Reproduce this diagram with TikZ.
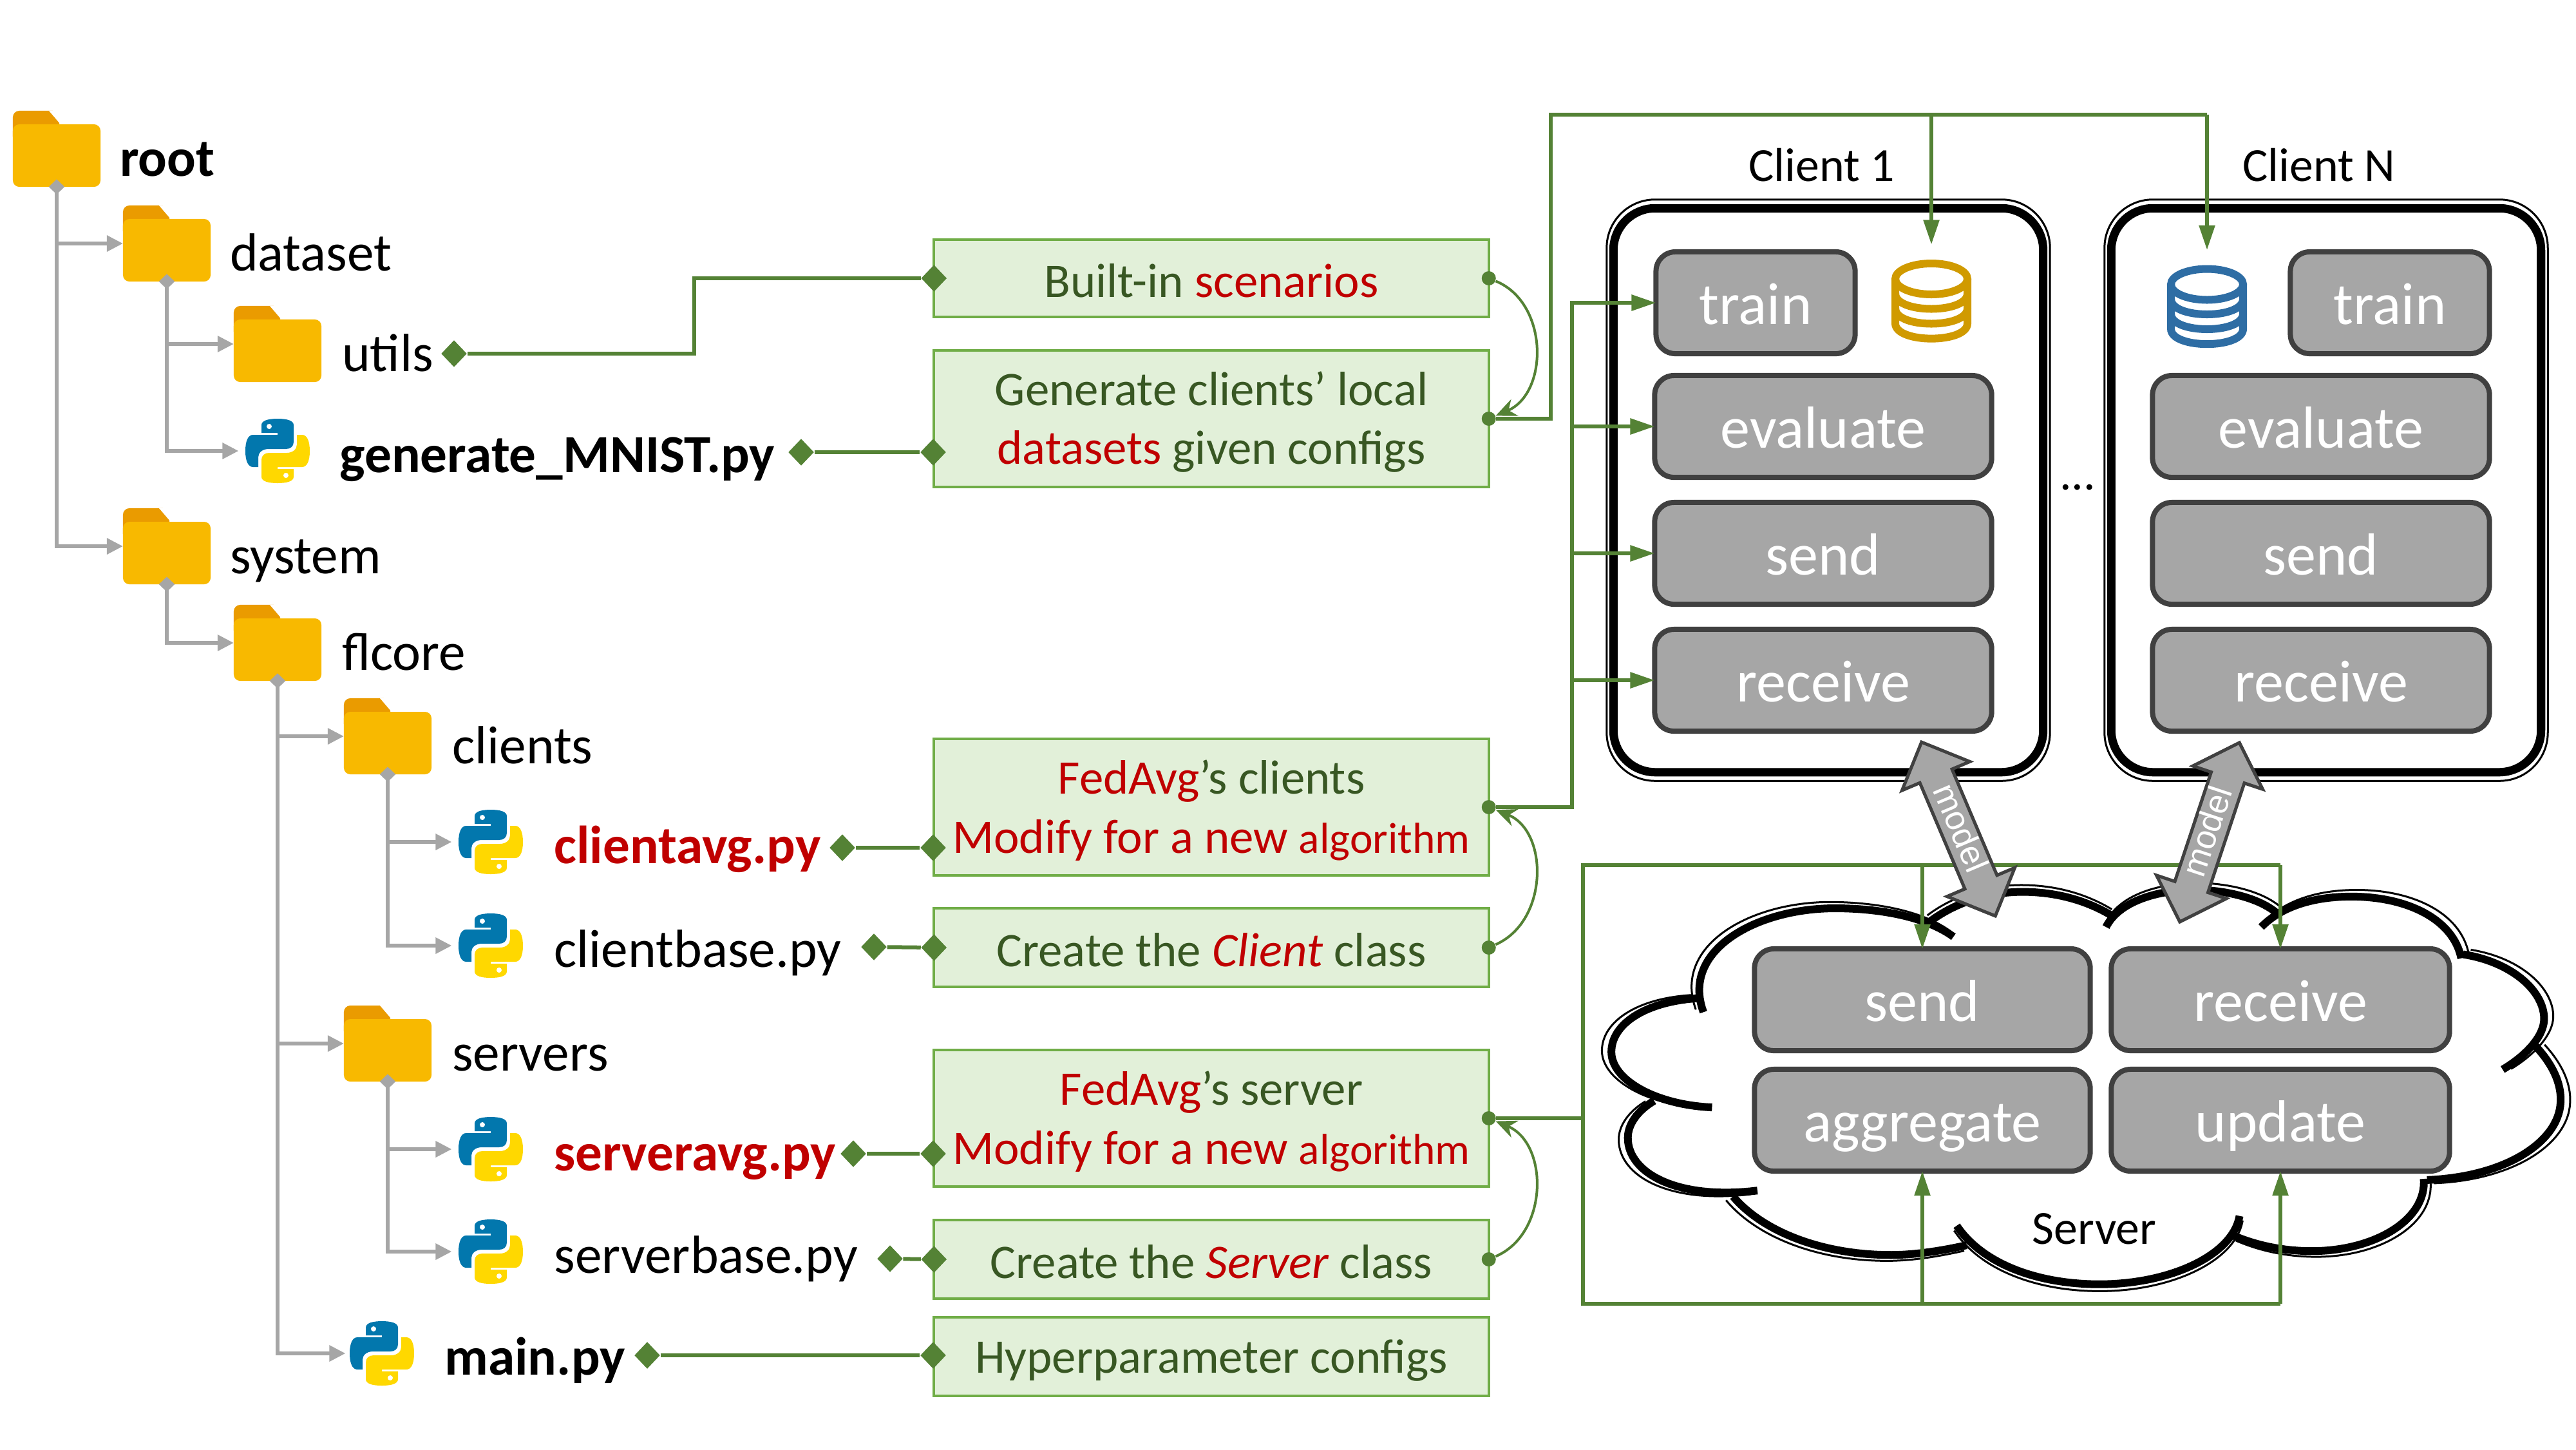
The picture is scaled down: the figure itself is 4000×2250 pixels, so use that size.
\documentclass[tikz,border=0pt]{standalone}
\usepackage{fontspec}
\setmainfont{Carlito}
\newfontfamily\modelfont{Liberation Sans}
\usepackage{tikz}
\usetikzlibrary{positioning,arrows.meta,shapes.geometric,shapes.arrows}

\definecolor{foldermain}{HTML}{F8B900}
\definecolor{foldertab}{HTML}{EA9B00}
\definecolor{treegray}{HTML}{A6A6A6}
\definecolor{fndark}{HTML}{404040}
\definecolor{linkgreen}{HTML}{548235}
\definecolor{notefill}{HTML}{E2F0D9}
\definecolor{noteline}{HTML}{70AD47}
\definecolor{notetext}{HTML}{385723}
\definecolor{notered}{HTML}{C00000}
\definecolor{pyblue}{HTML}{0277AD}
\definecolor{pyyellow}{HTML}{FFD800}
\definecolor{dborange}{HTML}{D09A00}
\definecolor{dbblue}{HTML}{2E6DA4}

\newcommand{\red}[1]{\textcolor{notered}{#1}}
\newcommand{\algword}{{\fontsize{19.2}{19.2}\selectfont algorithm}}
\newcommand{\pysnake}{(-25,-40) .. controls (-25,-47) and (-15,-50) .. (0,-50) .. controls (15,-50) and (25,-47) .. (25,-40) -- (25,-14) .. controls (25,-7) and (20,-3) .. (13,-3) -- (-14,-3) .. controls (-24,-3) and (-30,3) .. (-30,10) -- (-30,25) -- (-38,25) .. controls (-46,25) and (-50,15) .. (-50,0) .. controls (-50,-15) and (-46,-25) .. (-38,-25) -- (0,-25) -- (0,-28) -- (-25,-28) -- cycle}
\newcommand{\pysnakeb}{(25,40) .. controls (25,47) and (15,50) .. (0,50) .. controls (-15,50) and (-25,47) .. (-25,40) -- (-25,14) .. controls (-25,7) and (-20,3) .. (-13,3) -- (14,3) .. controls (24,3) and (30,-3) .. (30,-10) -- (30,-25) -- (38,-25) .. controls (46,-25) and (50,-15) .. (50,0) .. controls (50,15) and (46,25) .. (38,25) -- (0,25) -- (0,28) -- (25,28) -- cycle}

\tikzset{
  flabel/.style={font=\fontsize{23.7}{23.7}\selectfont,text height=16pt,text depth=5pt,inner sep=0pt,outer sep=0pt,yshift=-2.3mm},
  pylabel/.style={flabel,yshift=.9mm},
  folder/.style={minimum width=13.6mm,minimum height=11.8mm,inner sep=0pt,outer sep=0pt,
    path picture={
      \fill[foldertab,rounded corners=1mm] (path picture bounding box.north west) rectangle ([xshift=7.2mm,yshift=-5mm]path picture bounding box.north west);
      \fill[white] ([xshift=5.6mm]path picture bounding box.north west) -- ([xshift=7.4mm,yshift=-2.1mm]path picture bounding box.north west) -- ([xshift=7.4mm]path picture bounding box.north west) -- cycle;
      \fill[foldermain,rounded corners=1mm] ([yshift=-2.1mm]path picture bounding box.north west) rectangle (path picture bounding box.south east);
    }},
  pyicon/.style={minimum width=10.3mm,minimum height=10.3mm,inner sep=0pt,outer sep=0pt,
    path picture={
      \begin{scope}[shift={(path picture bounding box.center)},scale=1.03]
        \fill[pyblue] \pysnake;
        \fill[white] (-13,-38) circle (4);
        \fill[pyyellow] \pysnakeb;
        \fill[white] (13,38) circle (4);
      \end{scope}
    }},
  dbicon/.style={minimum width=12.6mm,minimum height=13mm,inner sep=0pt,outer sep=0pt,
    path picture={
      \begin{scope}[shift={(path picture bounding box.center)},#1,line width=1.2mm]
        \draw (0,-34.5) circle[x radius=56,y radius=24];
        \draw (-56,-34.5) -- (-56,34.5) .. controls (-56,66) and (56,66) .. (56,34.5) -- (56,-34.5);
        \draw (-56,-12) .. controls (-56,20) and (56,20) .. (56,-12);
        \draw (-56,11) .. controls (-56,43) and (56,43) .. (56,11);
      \end{scope}
    }},
  treedot/.style={diamond,fill=treegray,inner sep=0pt,minimum width=2.5mm,minimum height=2.4mm},
  linkdot/.style={diamond,fill=linkgreen,inner sep=0pt,minimum width=4mm,minimum height=4.2mm},
  portdot/.style={circle,fill=linkgreen,inner sep=0pt,minimum size=2.2mm},
  tree/.style={treegray,line width=.6mm},
  treearrow/.style={tree,-{Triangle[length=2.5mm,width=2.4mm]}},
  link/.style={linkgreen,line width=.6mm},
  linkarrow/.style={link,-{Triangle[length=3.8mm,width=2.4mm]}},
  linkfeed/.style={linkgreen,line width=.55mm,-{Triangle[length=3.8mm,width=2.4mm]}},
  linkbend/.style={linkgreen,line width=.4mm,-{Stealth[length=3.2mm,width=2.8mm]}},
  note/.style={draw=noteline,fill=notefill,line width=.4mm,text=notetext,minimum width=86.1mm,inner sep=0pt,outer sep=0pt,align=center,font=\fontsize{21.3}{26}\selectfont},
  fnbox/.style={draw=fndark,fill=treegray,line width=.8mm,rounded corners=3mm,text=white,inner sep=0pt,outer sep=0pt,minimum height=15.8mm,font=\fontsize{26.2}{26.2}\selectfont,text height=20pt,text depth=.7pt},
  clientbox/.style={draw=black,line width=1.3mm,rounded corners=6.5mm,minimum width=66.7mm,minimum height=87.5mm,outer sep=0pt},
  clientrim/.style={draw=black,line width=.3mm,rounded corners=7.5mm,minimum width=68.8mm,minimum height=90.2mm,outer sep=0pt},
  modelarrow/.style={double arrow,draw=fndark,fill=treegray,line width=.5mm,text=white,inner sep=0pt,outer sep=0pt,minimum height=29.3mm,minimum width=11mm,double arrow head extend=3mm,font=\modelfont\fontsize{15}{15}\selectfont,text height=11pt,text depth=3pt},
  plaintext/.style={font=\fontsize{21}{21}\selectfont,inner sep=0pt},
}
\newcommand{\cloudarcs}{
  (240,728) .. controls (205,570) and (320,462) .. (440,462) .. controls (510,462) and (580,485) .. (620,535)
  (585,495) .. controls (625,445) and (675,420) .. (725,420) .. controls (780,420) and (825,445) .. (860,480)
  (852,510) .. controls (870,450) and (920,420) .. (975,415) .. controls (1030,412) and (1085,435) .. (1112,475)
  (1088,510) .. controls (1120,455) and (1170,432) .. (1225,432) .. controls (1310,432) and (1380,490) .. (1392,590)
  (1395,580) .. controls (1470,600) and (1518,675) .. (1518,745) .. controls (1518,790) and (1490,840) .. (1455,875)
  (1505,815) .. controls (1530,860) and (1545,910) .. (1543,960) .. controls (1540,1060) and (1460,1150) .. (1340,1158)
  (1335,1155) .. controls (1340,1260) and (1260,1340) .. (1165,1340) .. controls (1120,1340) and (1080,1325) .. (1045,1300)
  (1055,1250) .. controls (1045,1350) and (950,1425) .. (842,1425) .. controls (750,1425) and (665,1375) .. (625,1275)
  (640,1325) .. controls (600,1340) and (560,1350) .. (525,1350) .. controls (420,1350) and (330,1290) .. (285,1200)
  (322,1185) .. controls (200,1210) and (125,1140) .. (125,1050) .. controls (125,1015) and (140,980) .. (165,955)
  (253,972) .. controls (165,965) and (100,900) .. (100,830) .. controls (100,760) and (150,700) .. (235,692)
}

\begin{document}
\begin{tikzpicture}[x=0.01cm,y=-0.01cm]
  \useasboundingbox (0,0) rectangle (4000,2250);
  % file tree
  \node [folder] (root) at (88,231) {};
  \node [folder] (dataset) at (259,378) {};
  \node [folder] (utils) at (431,534) {};
  \node [pyicon] (genpy) at (431,700) {};
  \node [folder] (system) at (259,848) {};
  \node [folder] (flcore) at (431,998) {};
  \node [folder] (clients) at (602,1143) {};
  \node [pyicon] (clavg) at (762,1307) {};
  \node [pyicon] (clbase) at (762,1468) {};
  \node [folder] (servers) at (602,1620) {};
  \node [pyicon] (svavg) at (762,1784) {};
  \node [pyicon] (svbase) at (762,1943) {};
  \node [pyicon] (mainpy) at (593,2101) {};

  \node [flabel,right=3mm of root] (rootl) {\textbf{root}};
  \node [flabel,right=3mm of dataset] (datasetl) {dataset};
  \node [flabel,right=3.2mm of utils] (utilsl) {utils};
  \node [pylabel,right=4.5mm of genpy] (genpyl) {\textbf{generate\_MNIST.py}};
  \node [flabel,right=3mm of system] (systeml) {system};
  \node [flabel,right=3.2mm of flcore] (flcorel) {flcore};
  \node [flabel,right=3.2mm of clients] (clientsl) {clients};
  \node [pylabel,right=4.7mm of clavg] (clavgl) {\textbf{\red{clientavg.py}}};
  \node [pylabel,right=4.7mm of clbase] (clbasel) {clientbase.py};
  \node [flabel,right=3.2mm of servers] (serversl) {servers};
  \node [pylabel,right=4.7mm of svavg] (svavgl) {\textbf{\red{serveravg.py}}};
  \node [pylabel,right=4.7mm of svbase] (svbasel) {serverbase.py};
  \node [pylabel,right=4.6mm of mainpy] (mainpyl) {\textbf{main.py}};

  \node [treedot] (rootd) at (root.south) {};
  \node [treedot] (datasetd) at (dataset.south) {};
  \node [treedot] (systemd) at (system.south) {};
  \node [treedot] (flcored) at (flcore.south) {};
  \node [treedot] (clientsd) at (clients.south) {};
  \node [treedot] (serversd) at (servers.south) {};
  \draw [treearrow] (rootd.center) |- (dataset.west);
  \draw [treearrow] (rootd.center) |- (system.west);
  \draw [treearrow] (datasetd.center) |- (utils.west);
  \draw [treearrow] (datasetd.center) |- ([xshift=-.9mm]genpy.west);
  \draw [treearrow] (systemd.center) |- (flcore.west);
  \draw [treearrow] (flcored.center) |- (clients.west);
  \draw [treearrow] (flcored.center) |- (servers.west);
  \draw [treearrow] (flcored.center) |- ([xshift=-.5mm]mainpy.west);
  \draw [treearrow] (clientsd.center) |- ([xshift=-.9mm]clavg.west);
  \draw [treearrow] (clientsd.center) |- ([xshift=-.9mm]clbase.west);
  \draw [treearrow] (serversd.center) |- ([xshift=-.9mm]svavg.west);
  \draw [treearrow] (serversd.center) |- ([xshift=-.9mm]svbase.west);

  % notes
  \node [note,minimum height=12mm] (builtin) at (1881,432) {\rule{0pt}{17pt}Built-in \red{scenarios}};
  \node [note,minimum height=21.2mm] (gencfg) at (1881,650) {\rule{0pt}{18pt}Generate clients’ local\\\red{datasets} given configs};
  \node [note,minimum height=21.2mm] (clnote) at (1881,1253) {\rule{0pt}{18pt}\red{FedAvg}’s clients\\\red{Modify for a new \algword}};
  \node [note,minimum height=12.2mm] (clclass) at (1881,1471) {\rule{0pt}{17pt}Create the \red{\textit{Client}} class};
  \node [note,minimum height=21.2mm] (svnote) at (1881,1736) {\rule{0pt}{18pt}\red{FedAvg}’s server\\\red{Modify for a new \algword}};
  \node [note,minimum height=12.2mm] (svclass) at (1881,1955) {\rule{0pt}{17pt}Create the \red{\textit{Server}} class};
  \node [note,minimum height=12.2mm] (hyper) at (1881,2106) {\rule{0pt}{18pt}Hyperparameter configs};

  % clients
  \node [clientrim] (c1rim) at (2839,761) {};
  \node [clientbox] (c1) at (2839,761) {};
  \node [clientrim] (cNrim) at (3612,761) {};
  \node [clientbox] (cN) at (3612,761) {};
  \node [plaintext] (c1l) at (2829,256) {Client 1};
  \node [plaintext] (cNl) at (3601,256) {Client N};
  \node [plaintext] (dots) at (3226,757) {...};
  \node [fnbox,minimum width=30.9mm] (c1train) at (2726,470) {train};
  \node [fnbox,minimum width=52.3mm] (c1eval) at (2831,662) {evaluate};
  \node [fnbox,minimum width=52.3mm] (c1send) at (2831,859) {send};
  \node [fnbox,minimum width=52.3mm] (c1recv) at (2831,1056) {receive};
  \node [fnbox,minimum width=30.9mm] (cNtrain) at (3711,470) {train};
  \node [fnbox,minimum width=52.3mm] (cNeval) at (3604,662) {evaluate};
  \node [fnbox,minimum width=52.3mm] (cNsend) at (3604,859) {send};
  \node [fnbox,minimum width=52.3mm] (cNrecv) at (3604,1056) {receive};
  \node [dbicon={draw=dborange}] (db1) at (2999,467.5) {};
  \node [dbicon={draw=dbblue}] (dbN) at (3427,476) {};

  % server
  \begin{scope}[shift={(2400,1130)},x=0.010204cm,y=-0.006059cm]
    \draw [line width=.3mm,shift={(820,920)},xscale=1.02,yscale=1.035,shift={(-820,-920)}] \cloudarcs;
    \draw [line width=1.2mm] \cloudarcs;
  \end{scope}
  \node [plaintext] (serverl) at (3252,1908) {Server};
  \node [fnbox,minimum width=52.1mm] (svsend) at (2985,1552) {send};
  \node [fnbox,minimum width=52.5mm] (svrecv) at (3541,1552) {receive};
  \node [fnbox,minimum width=52.1mm] (svagg) at (2985,1739) {aggregate};
  \node [fnbox,minimum width=52.5mm] (svupd) at (3541,1739) {update};

  % links from the tree to the notes
  \node [linkdot] (utilsd) at (705,549) {};
  \node [linkdot] (genpyd) at (1244,702) {};
  \node [linkdot] (clavgd) at (1308,1316) {};
  \node [linkdot] (clbased) at (1357,1470) {};
  \node [linkdot] (svavgd) at (1325,1791) {};
  \node [linkdot] (svbased) at (1382,1954) {};
  \node [linkdot] (mainpyd) at (1005,2104) {};
  \node [linkdot] (builtind) at (builtin.west) {};
  \node [linkdot] (gencfgd) at (1449,702) {};
  \node [linkdot] (clnoted) at (1449,1316) {};
  \node [linkdot] (clclassd) at (clclass.west) {};
  \node [linkdot] (svnoted) at (1449,1791) {};
  \node [linkdot] (svclassd) at (svclass.west) {};
  \node [linkdot] (hyperd) at (1449,2104) {};
  \coordinate (utilsj) at (1078,549);
  \draw [link] (utilsd) -- (utilsj) |- (builtind);
  \draw [link] (genpyd) -- (gencfgd);
  \draw [link] (clavgd) -- (clnoted);
  \draw [link] (clbased) -- (clclassd);
  \draw [link] (svavgd) -- (svnoted);
  \draw [link] (svbased) -- (svclassd);
  \draw [link] (mainpyd) -- (hyperd);

  % links from the notes to the clients and the server
  \node [portdot] (builtinp) at (builtin.east) {};
  \node [portdot] (gencfgp) at (gencfg.east) {};
  \node [portdot] (clnotep) at (clnote.east) {};
  \node [portdot] (clclassp) at (clclass.east) {};
  \node [portdot] (svnotep) at (svnote.east) {};
  \node [portdot] (svclassp) at (svclass.east) {};
  \draw [linkbend] (builtinp) .. controls (2405,470) and (2405,610) .. (gencfgp);
  \draw [linkbend] (clclassp) .. controls (2405,1430) and (2405,1290) .. (clnotep);
  \draw [linkbend] (svclassp) .. controls (2405,1915) and (2405,1775) .. (svnotep);

  \coordinate (gencfgj) at (2408,650);
  \coordinate (topj) at (3427,178);
  \draw [link] (gencfgp) -- (gencfgj) |- (topj);
  \draw [linkfeed] (db1 |- topj) -- ([yshift=2.3mm]db1.north);
  \draw [linkfeed] (topj) -- ([yshift=2.3mm]dbN.north);

  \coordinate (clj) at (2441,1253);
  \draw [link] (clnotep) -- (clj) -- (clj |- c1recv);
  \draw [linkarrow] (clj |- c1recv) |- (c1train.west);
  \draw [linkarrow] (clj |- c1eval) -- (c1eval.west);
  \draw [linkarrow] (clj |- c1send) -- (c1send.west);
  \draw [linkarrow] (clj |- c1recv) -- (c1recv.west);

  \coordinate (svj) at (2458,1736);
  \coordinate (svtop) at (3541,1343);
  \coordinate (svbot) at (3541,2024);
  \draw [link] (svnotep) -- (svj);
  \draw [link] (svj) |- (svtop);
  \draw [link] (svj) |- (svbot);
  \draw [linkfeed] (svsend |- svtop) -- (svsend.north);
  \draw [linkfeed] (svtop) -- (svrecv.north);
  \draw [linkfeed] (svagg |- svbot) -- (svagg.south);
  \draw [linkfeed] (svbot) -- (svupd.south);

  % model exchange
  \node [modelarrow,rotate=-67] (model1) at (3041,1287) {model};
  \node [modelarrow,rotate=71.6] (modelN) at (3431,1292) {model};
\end{tikzpicture}
\end{document}
